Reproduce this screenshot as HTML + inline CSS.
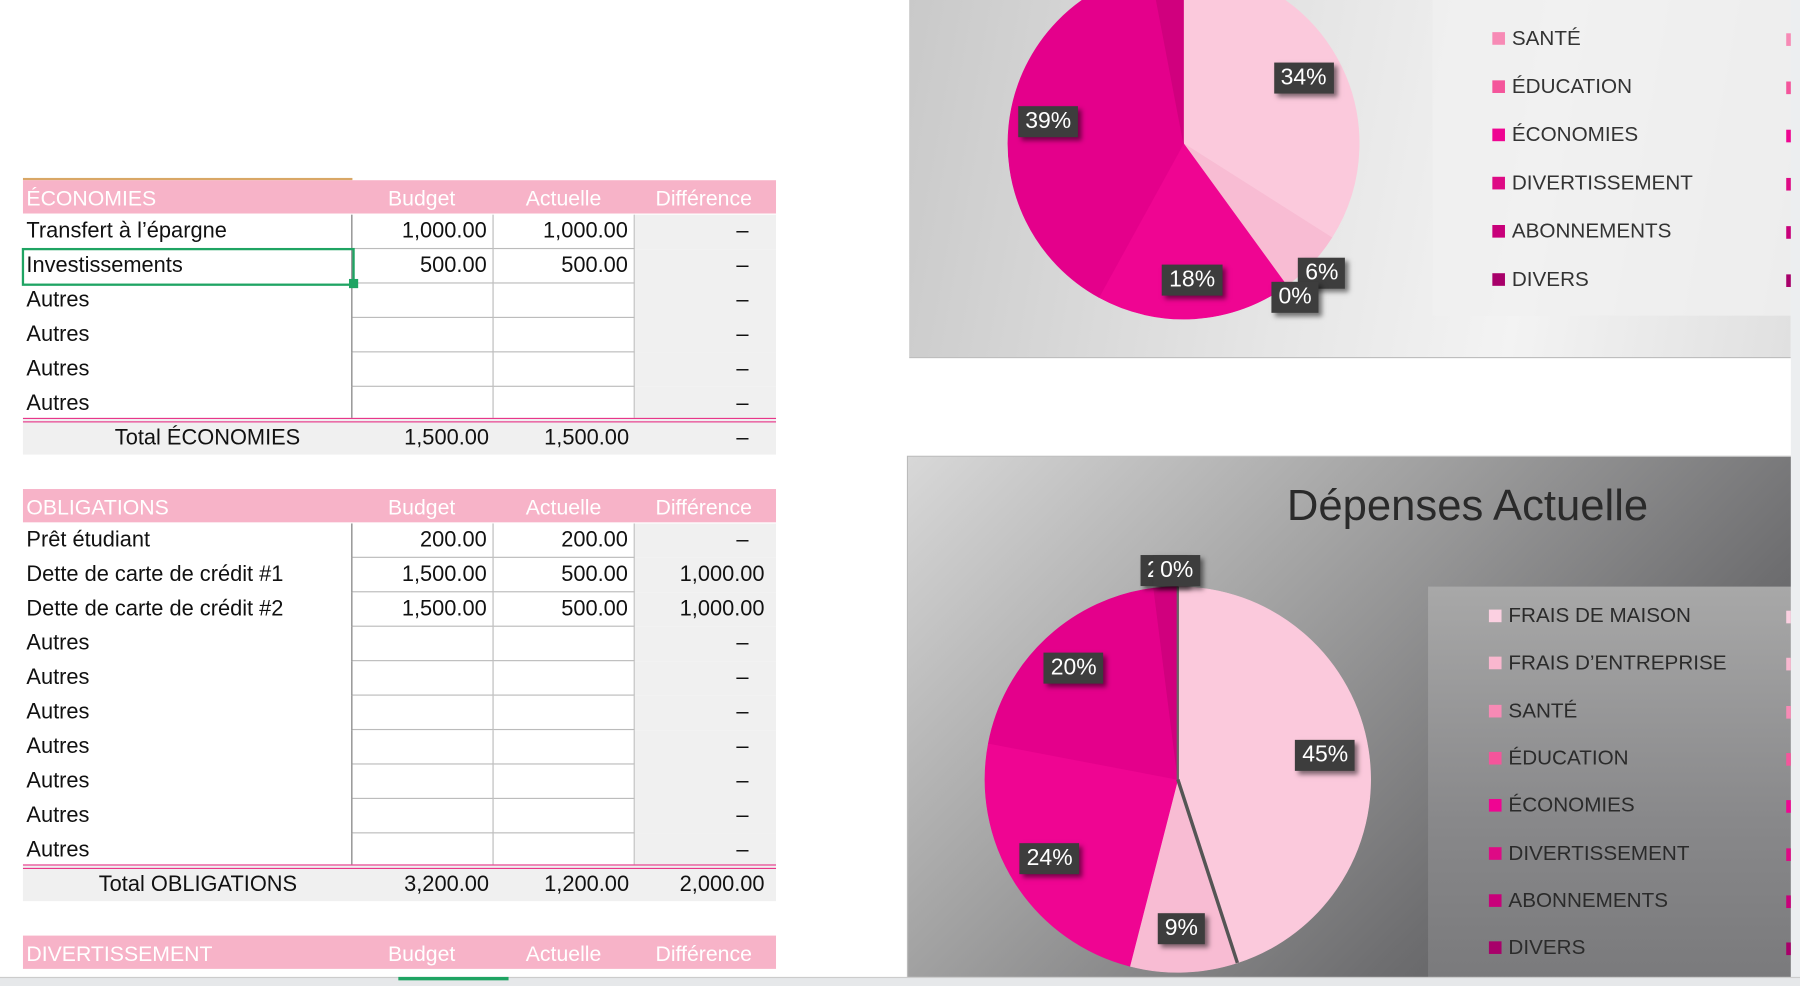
<!DOCTYPE html>
<html><head><meta charset="utf-8">
<style>
html,body{margin:0;padding:0;width:1800px;height:986px;overflow:hidden;background:#fff;}
#wrap{position:absolute;left:0;top:0;width:1568px;height:859px;transform:scale(1.14796);transform-origin:0 0;overflow:hidden;font-family:"Liberation Sans",sans-serif;}
.abs{position:absolute;}
.hdr{position:absolute;left:20px;width:656px;height:29px;background:#f7b3c8;color:#fff;font-size:18.5px;}
.hdr span{position:absolute;top:5px;}
.row{position:absolute;left:20px;width:656px;height:30px;font-size:19px;color:#111;}
.row .c{position:absolute;top:0;height:30px;line-height:30px;box-sizing:border-box;}
.lbl{left:0;width:287px;padding-left:3px;border-right:1px solid #777;}
.bud{left:287px;width:123px;text-align:right;padding-right:5px;border-right:1px solid #bbb;border-bottom:1px solid #bbb;}
.act{left:410px;width:123px;text-align:right;padding-right:5px;border-right:1px solid #bbb;border-bottom:1px solid #bbb;}
.dif{left:533px;width:123px;text-align:right;padding-right:24px;background:#f0f0f0;}
.tot{position:absolute;left:20px;width:656px;height:28px;background:#f0f0f0;font-size:19px;color:#111;border-top:4px double #e8378a;}
.tot span{position:absolute;top:3px;}
.leg{position:absolute;font-size:18px;color:#333;white-space:nowrap;}
.leg i{display:inline-block;width:11px;height:11px;margin-right:6px;vertical-align:0px;}
.dl{position:absolute;background:#3d3d3d;color:#fff;font-size:20px;padding:2px 6px;box-shadow:3px 3px 4px rgba(0,0,0,.5);transform:translate(-50%,-50%);white-space:nowrap;}
</style></head><body>
<div id="wrap">
<div class="abs" style="left:20px;top:155px;width:287px;height:2px;background:#d9a766"></div>
<div id="table"></div>
<div class="abs" style="left:19px;top:216px;width:286px;height:29px;border:2px solid #1fa463;"></div>
<div class="abs" style="left:304px;top:243px;width:8px;height:8px;background:#1fa463;"></div>

<!-- Top chart -->
<div class="abs" style="left:792px;top:0;width:768px;height:311px;background:linear-gradient(100deg,#c9c9c9 0%,#e6e6e6 45%,#f3f3f3 70%,#e0e0e0 100%);border-bottom:1px solid #bdbdbd;">
 <div class="abs" style="left:456px;top:0;width:312px;height:275px;background:rgba(240,240,240,.8)"></div>
 <svg id="pie1" class="abs" style="left:0;top:0" width="768" height="311"></svg>
</div>
<div id="legend1"></div>

<!-- Bottom chart -->
<div class="abs" style="left:790px;top:397px;width:770px;height:454px;background:linear-gradient(135deg,#d8d8d8 0%,#a4a4a4 35%,#6e6e70 70%,#4a4a4c 100%);border:1px solid #bbb;">
 <div class="abs" style="left:453px;top:113px;width:317px;height:341px;background:linear-gradient(180deg,#a8a8a8,#88888a 60%,#7a7a7c);"></div>
 <div class="abs" style="left:330px;top:22px;font-size:38px;color:#2a2a2a;">Dépenses Actuelle</div>
 <svg id="pie2" class="abs" style="left:0;top:0" width="770" height="454"></svg>
</div>
<div id="legend2"></div>
<div class="abs" style="left:1560px;top:0;width:8px;height:859px;background:#eceef0"></div>
<div class="abs" style="left:0;top:851px;width:1568px;height:8px;background:#e6e8ea;border-top:1px solid #ccc"></div>
<div class="abs" style="left:347px;top:851px;width:96px;height:3px;background:#1fa463"></div>
</div>
<script>
// ---------- table ----------
const sec1Labels=["Transfert à l’épargne","Investissements","Autres","Autres","Autres","Autres"];
const sec1Budget=["1,000.00","500.00","","","",""];
const sec1Actual=["1,000.00","500.00","","","",""];
const sec1Diff=["–","–","–","–","–","–"];
const sec2Labels=["Prêt étudiant","Dette de carte de crédit #1","Dette de carte de crédit #2","Autres","Autres","Autres","Autres","Autres","Autres","Autres"];
const sec2Budget=["200.00","1,500.00","1,500.00","","","","","","",""];
const sec2Actual=["200.00","500.00","500.00","","","","","","",""];
const sec2Diff=["–","1,000.00","1,000.00","–","–","–","–","–","–","–"];
const table=document.getElementById('table');
function header(y,title){
 const h=document.createElement('div');h.className='hdr';h.style.top=y+'px';
 
 
 h.innerHTML='<span style="left:3px">'+title+'</span><span style="left:318px">Budget</span><span style="left:438px">Actuelle</span><span style="left:551px">Différence</span>';
 table.appendChild(h);
}
function rows(y,L,B,A,D){
 for(let i=0;i<L.length;i++){
  const r=document.createElement('div');r.className='row';r.style.top=(y+30*i)+'px';
  
  
  r.innerHTML='<div class="c lbl">'+L[i]+'</div><div class="c bud">'+B[i]+'</div><div class="c act">'+A[i]+'</div><div class="c dif">'+D[i]+'</div>';
  if(D[i]!=='–') r.lastChild.style.paddingRight='10px';
  table.appendChild(r);
 }
}
function total(y,label,b,a,d,lx){
 const t=document.createElement('div');t.className='tot';t.style.top=y+'px';
 
 
 t.innerHTML='<span style="left:'+lx+'px">'+label+'</span><span style="right:250px">'+b+'</span><span style="right:128px">'+a+'</span><span style="right:'+(d==='–'?24:10)+'px">'+d+'</span>';
 table.appendChild(t);
}
header(157,'ÉCONOMIES');rows(187,sec1Labels,sec1Budget,sec1Actual,sec1Diff);
total(364,'Total ÉCONOMIES','1,500.00','1,500.00','–',80);
header(426,'OBLIGATIONS');rows(456,sec2Labels,sec2Budget,sec2Actual,sec2Diff);
total(753,'Total OBLIGATIONS','3,200.00','1,200.00','2,000.00',66);
header(815,'DIVERTISSEMENT');

// ---------- pies ----------
const pie1Values=[34,6,0,18,39,3];
const pie1Labels=["34%","6%","0%","18%","39%",""];
const pie1Colors=["#fbc9dc","#f8bcd3","#f26aa8","#ef0592","#e4008b","#d0007e"];
const pie2Values=[45,9,24,20,2,0];
const pie2Labels=["45%","9%","24%","20%","2%","0%"];
const pie2Colors=["#fbc9dc","#f8bcd3","#ef0592","#e4008b","#d0007e","#b8006e"];
const legend1Names=["SANTÉ","ÉDUCATION","ÉCONOMIES","DIVERTISSEMENT","ABONNEMENTS","DIVERS"];
const legend1Colors=["#f78ab5","#f4559b","#ef0592","#de0a85","#c8007a","#a8006a"];
const legend2Names=["FRAIS DE MAISON","FRAIS D’ENTREPRISE","SANTÉ","ÉDUCATION","ÉCONOMIES","DIVERTISSEMENT","ABONNEMENTS","DIVERS"];
const legend2Colors=["#fbd0e1","#f9b7cf","#f78ab5","#f4559b","#ef0592","#de0a85","#c8007a","#a8006a"];
const NS='http://www.w3.org/2000/svg';
function drawPie(svgId,values,labels,colors,cx,cy,r,ox,oy){
 const svg=document.getElementById(svgId);
 const tot=values.reduce((a,b)=>a+b,0);
 let acc=0;
 values.forEach((v,i)=>{
  const a0=acc/tot*2*Math.PI, a1=(acc+v)/tot*2*Math.PI;acc+=v;
  const x0=cx+r*Math.sin(a0),y0=cy-r*Math.cos(a0),x1=cx+r*Math.sin(a1),y1=cy-r*Math.cos(a1);
  if(v>0){
   const p=document.createElementNS(NS,'path');
   p.setAttribute('d','M'+cx+','+cy+' L'+x0+','+y0+' A'+r+','+r+' 0 '+((a1-a0)>Math.PI?1:0)+' 1 '+x1+','+y1+' Z');
   p.setAttribute('fill',colors[i]);p.setAttribute('stroke',colors[i]);p.setAttribute('stroke-width','0.5');
   
   
   svg.appendChild(p);
  }
  if(labels[i]){
   const am=(a0+a1)/2, f=(v/tot<0.08)?1.08:0.78;
   const d=document.createElement('div');d.className='dl';d.textContent=labels[i];
   d.style.left=(ox+cx+f*r*Math.sin(am))+'px';d.style.top=(oy+cy-f*r*Math.cos(am))+'px';
   
   
   document.getElementById('wrap').appendChild(d);
  }
 });
}
drawPie('pie1',pie1Values,pie1Labels,pie1Colors,239,125,153,792,0);
drawPie('pie2',pie2Values,pie2Labels,pie2Colors,235,281,168,790,397);
// separator line in bottom pie
(function(){const svg=document.getElementById('pie2');const tot=pie2Values.reduce((a,b)=>a+b,0);
 const a=pie2Values[0]/tot*2*Math.PI;const l=document.createElementNS(NS,'line');
 l.setAttribute('x1',235);l.setAttribute('y1',281);l.setAttribute('x2',235+168*Math.sin(a));l.setAttribute('y2',281-168*Math.cos(a));
 l.setAttribute('stroke','#555');l.setAttribute('stroke-width','3');
 
 
 svg.appendChild(l);
 const v=document.createElementNS(NS,'line');v.setAttribute('x1',235);v.setAttribute('y1',281);v.setAttribute('x2',235);v.setAttribute('y2',113);
 v.setAttribute('stroke','#666');v.setAttribute('stroke-width','2');
 
 
 svg.appendChild(v);})();
function legend(id,names,colors,x,y,step,txt){
 const host=document.getElementById('wrap');
 names.forEach((n,i)=>{
  const e=document.createElement('div');e.className='leg';e.style.left=x+'px';e.style.top=(y+step*i)+'px';e.style.color=txt;
  e.innerHTML='<i style="background:'+colors[i]+'"></i>'+n;
  
  
  host.appendChild(e);
  const m=document.createElement('div');m.className='abs';m.style.left='1556px';m.style.top=(y+step*i+6)+'px';m.style.width='4px';m.style.height='11px';m.style.background=colors[i];
  
  
  host.appendChild(m);
 });
}
legend('legend1',legend1Names,legend1Colors,1300,23,42,'#333');
legend('legend2',legend2Names,legend2Colors,1297,526,41.3,'#2b2b2b');
</script>
</body></html>
